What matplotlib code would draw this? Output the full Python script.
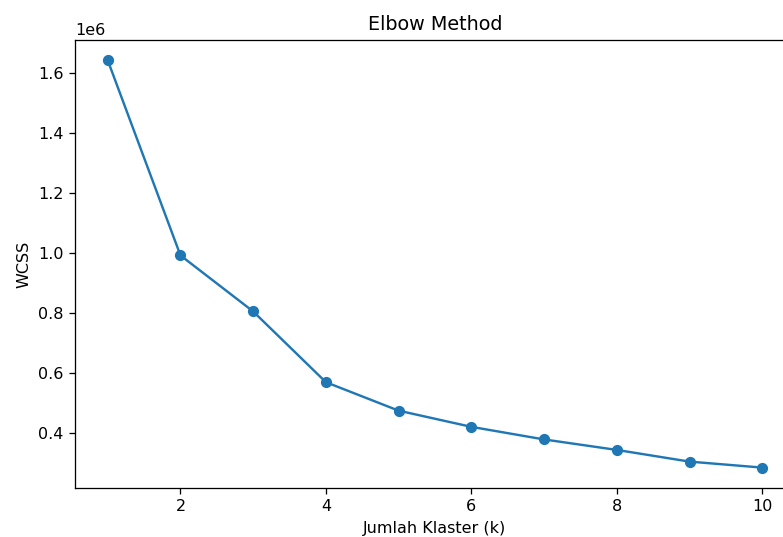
import matplotlib
matplotlib.use("Agg")
from matplotlib import pyplot as plt

k = [1, 2, 3, 4, 5, 6, 7, 8, 9, 10]
wcss = [1.643e6, 0.992e6, 0.805e6, 0.569e6, 0.474e6, 0.420e6, 0.378e6, 0.343e6, 0.304e6, 0.284e6]

# the reference looks like a default plot shown at ~1.15x, so draw at dpi 115
dpi = 115
fig = plt.figure(figsize=(783 / dpi, 537 / dpi), dpi=dpi)
# the reference is a crop: the axes run past the right edge of the picture
ax = fig.add_axes([0.0958, 0.0913, 0.9195, 0.8343])
ax.plot(k, wcss, marker='o')
ax.set_title('Elbow Method')
ax.set_xlabel('Jumlah Klaster (k)')
ax.set_ylabel('WCSS')
fig.savefig('out.png', dpi=dpi)
